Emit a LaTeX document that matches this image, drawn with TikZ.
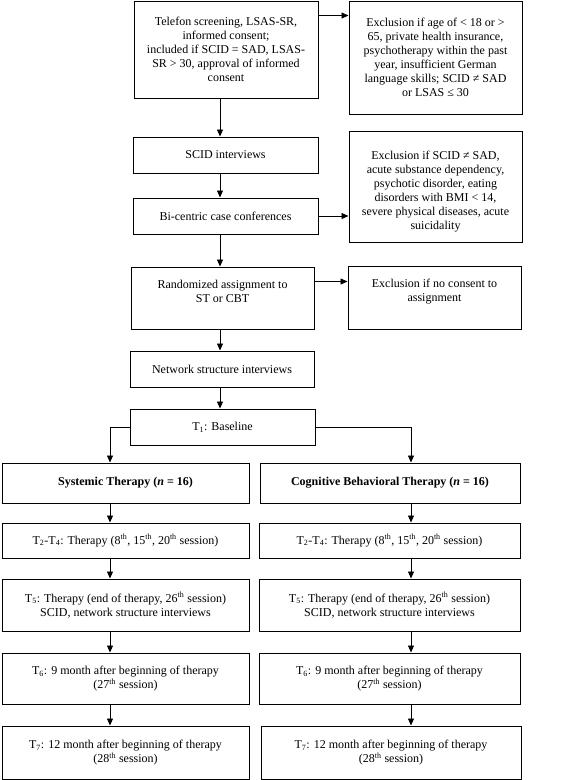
\documentclass[tikz,border=0pt]{standalone}
\usepackage{fontspec}
\setmainfont{Liberation Serif}
\usetikzlibrary{arrows.meta}
\begin{document}
\begin{tikzpicture}[x=1pt,y=-1pt,
  box/.style={draw,line width=1pt,inner sep=0pt,align=center,font=\fontsize{12}{14}\selectfont},
  arr/.style={line width=0.8pt,-{Triangle[length=7pt,width=6pt]}}]
\useasboundingbox (0,0) rectangle (567,780);
\fill[white] (0,0) rectangle (567,780);
\coordinate (colM) at (220,0);
\coordinate (colL) at (110,0);
\coordinate (colR) at (411,0);
\node[box,minimum width=184pt,minimum height=97pt] (tel) at (226,49.5) {Telefon screening, LSAS-SR,\\informed consent;\\included if SCID = SAD, LSAS-\\SR > 30, approval of informed\\consent};
\node[box,minimum width=173pt,minimum height=113pt] (ex1) at (435.5,57.5) {Exclusion if age of < 18 or >\\65, private health insurance,\\psychotherapy within the past\\year, insufficient German\\language skills; SCID ≠ SAD\\or LSAS ≤ 30};
\node[box,minimum width=185pt,minimum height=36pt] (scid) at (225.5,155) {SCID interviews};
\node[box,minimum width=173pt,minimum height=111pt] (ex2) at (435.5,186.5) {\rule{0pt}{18pt}Exclusion if SCID ≠ SAD,\\acute substance dependency,\\psychotic disorder, eating\\disorders with BMI < 14,\\severe physical diseases, acute\\suicidality};
\node[box,minimum width=185pt,minimum height=36pt] (bi) at (225.5,216) {Bi-centric case conferences};
\node[box,minimum width=183pt,minimum height=62pt] (rand) at (222.5,298) {Randomized assignment to\\ST or CBT\\\mbox{}};
\node[box,minimum width=173pt,minimum height=63pt] (ex3) at (434.5,297.5) {Exclusion if no consent to\\assignment\\\mbox{}};
\node[box,minimum width=184pt,minimum height=36pt] (net) at (222,369) {Network structure interviews};
\node[box,minimum width=185pt,minimum height=36pt] (t1) at (222.5,427) {T\textsubscript{1}: Baseline};
\node[box,minimum width=247pt,minimum height=40pt] (st) at (125.5,483) {\textbf{Systemic Therapy (\textit{n} = 16)}};
\node[box,minimum width=260pt,minimum height=40pt] (cbt) at (390,483) {\textbf{Cognitive Behavioral Therapy (\textit{n} = 16)}};
\node[box,minimum width=247pt,minimum height=35pt] (t2a) at (125.5,540.5) {T\textsubscript{2}-T\textsubscript{4}: Therapy (8\textsuperscript{th}, 15\textsuperscript{th}, 20\textsuperscript{th} session)};
\node[box,minimum width=261pt,minimum height=35pt] (t2b) at (389.5,540.5) {T\textsubscript{2}-T\textsubscript{4}: Therapy (8\textsuperscript{th}, 15\textsuperscript{th}, 20\textsuperscript{th} session)};
\node[box,minimum width=247pt,minimum height=52pt] (t5a) at (125.5,605) {T\textsubscript{5}: Therapy (end of therapy, 26\textsuperscript{th} session)\\SCID, network structure interviews};
\node[box,minimum width=261pt,minimum height=52pt] (t5b) at (389.5,605) {T\textsubscript{5}: Therapy (end of therapy, 26\textsuperscript{th} session)\\SCID, network structure interviews};
\node[box,minimum width=247pt,minimum height=51pt] (t6a) at (125.5,678.5) {T\textsubscript{6}: 9 month after beginning of therapy\\(27\textsuperscript{th} session)};
\node[box,minimum width=261pt,minimum height=51pt] (t6b) at (389.5,678.5) {T\textsubscript{6}: 9 month after beginning of therapy\\(27\textsuperscript{th} session)};
\node[box,minimum width=247pt,minimum height=53pt] (t7a) at (125.5,752.5) {T\textsubscript{7}: 12 month after beginning of therapy\\(28\textsuperscript{th} session)};
\node[box,minimum width=260pt,minimum height=53pt] (t7b) at (391,752.5) {T\textsubscript{7}: 12 month after beginning of therapy\\(28\textsuperscript{th} session)};
% right arrows
\coordinate (a1) at ([yshift=-15pt]tel.north east);
\draw[arr] (a1) -- (a1 -| ex1.west);
\draw[arr] (bi.east) -- (bi.east -| ex2.west);
\coordinate (a3) at ([yshift=-15pt]rand.north east);
\draw[arr] (a3) -- (a3 -| ex3.west);
% middle column
\draw[arr] (tel.south -| colM) -- (scid.north -| colM);
\draw[arr] (scid.south -| colM) -- (bi.north -| colM);
\draw[arr] (bi.south -| colM) -- (rand.north -| colM);
\draw[arr] (rand.south -| colM) -- (net.north -| colM);
\draw[arr] (net.south -| colM) -- (t1.north -| colM);
% branches
\draw[arr] (t1.west) -| (st.north -| colL);
\draw[arr] (t1.east) -| (cbt.north -| colR);
\draw[arr] (st.south -| colL) -- (t2a.north -| colL);
\draw[arr] (t2a.south -| colL) -- (t5a.north -| colL);
\draw[arr] (t5a.south -| colL) -- (t6a.north -| colL);
\draw[arr] (t6a.south -| colL) -- (t7a.north -| colL);
\draw[arr] (cbt.south -| colR) -- (t2b.north -| colR);
\draw[arr] (t2b.south -| colR) -- (t5b.north -| colR);
\draw[arr] (t5b.south -| colR) -- (t6b.north -| colR);
\draw[arr] (t6b.south -| colR) -- (t7b.north -| colR);
\end{tikzpicture}
\end{document}
